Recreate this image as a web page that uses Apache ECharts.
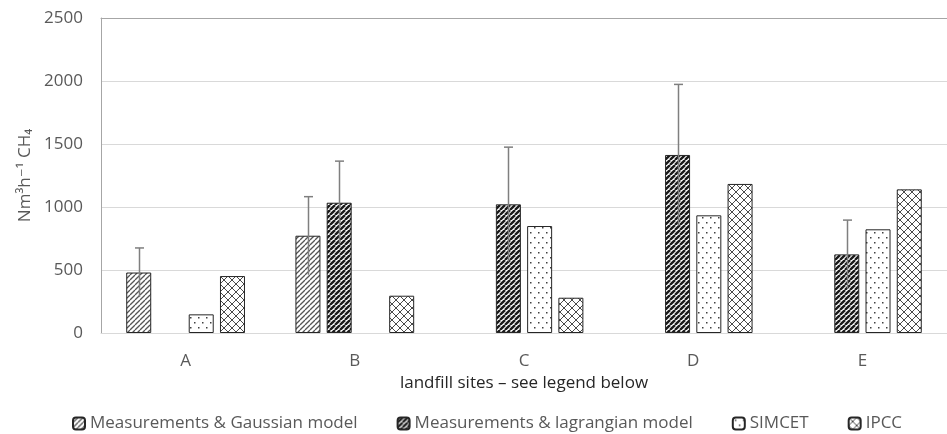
<!DOCTYPE html>
<html>
<head>
<meta charset="utf-8">
<script src="https://cdn.jsdelivr.net/npm/echarts@6/dist/echarts.min.js"></script>
<style>html,body{margin:0;padding:0;background:#fff}#c{width:947px;height:434px}</style>
</head>
<body>
<div id="c"></div>
<script>
const categories = ['A', 'B', 'C', 'D', 'E'];
const seriesNames = ['Measurements & Gaussian model', 'Measurements & lagrangian model', 'SIMCET', 'IPCC'];
const gaussian = [480, 772, null, null, null];
const gaussianErr = [195, 310, null, null, null];
const lagrangian = [null, 1034, 1021, 1413, 624];
const lagrangianErr = [null, 330, 454, 560, 272];
const simcet = [148, null, 849, 934, 823];
const ipcc = [452, 296, 280, 1183, 1140];
const yTicks = { min: 0, max: 2500, interval: 500 };

function tile(w, h, draw) {
  const c = document.createElement('canvas');
  c.width = w; c.height = h;
  const g = c.getContext('2d');
  g.fillStyle = '#fff'; g.fillRect(0, 0, w, h);
  draw(g, w, h);
  return c;
}
function diag(g, s, color, lw, dir) {
  g.strokeStyle = color; g.lineWidth = lw;
  for (let k = -1; k <= 1; k++) {
    g.beginPath();
    if (dir > 0) { g.moveTo(k * s, s); g.lineTo(k * s + s, 0); }
    else { g.moveTo(k * s, 0); g.lineTo(k * s + s, s); }
    g.stroke();
  }
}
const patGauss = tile(5, 5, (g) => diag(g, 5, '#555', 1.3, 1));
const patLag = tile(5, 5, (g) => diag(g, 5, '#1a1a1a', 2.4, 1));
const patSim = tile(8, 10, (g) => { g.fillStyle = '#404040'; g.fillRect(2, 2, 1.5, 1.5); g.fillRect(6, 7, 1.5, 1.5); });
const patIpcc = tile(8, 8, (g) => { diag(g, 8, '#4a4a4a', 1, 1); diag(g, 8, '#4a4a4a', 1, -1); });

const BAR_W = 25, GAP = 0.25;
const pitch = BAR_W * (1 + GAP);

function barSeries(name, data, pat) {
  return {
    name, type: 'bar', data, barWidth: BAR_W, barGap: (GAP * 100) + '%',
    itemStyle: { color: { image: pat, repeat: 'repeat' }, borderColor: '#262626', borderWidth: 1 }
  };
}
const errData = [];
[[gaussian, gaussianErr, 0], [lagrangian, lagrangianErr, 1]].forEach(([v, e, si]) => {
  v.forEach((val, i) => { if (val != null && e[i] != null) errData.push([i, val - e[i], val + e[i], si]); });
});

const txt = '#595959';
const font = "'Open Sans', 'DejaVu Sans', sans-serif";
const FS = 17;
const chart = echarts.init(document.getElementById('c'), null, { renderer: 'canvas' });
chart.setOption({
  animation: false,
  textStyle: { fontFamily: font },
  grid: { left: 101, top: 18, width: 856, height: 315 },
  legend: {
    data: seriesNames, left: 67, top: 410, itemWidth: 12, itemHeight: 12, itemGap: 39,
    textStyle: { color: txt, fontSize: FS, fontFamily: font }
  },
  xAxis: [{
    type: 'category', data: categories,
    axisLine: { lineStyle: { color: '#d9d9d9', width: 1 } }, axisTick: { show: false },
    axisLabel: { color: txt, fontSize: FS, margin: 20 },
    name: 'landfill sites – see legend below', nameLocation: 'middle', nameGap: 40,
    nameTextStyle: { color: '#262626', fontSize: FS }
  }, {
    type: 'category', data: categories, position: 'top',
    axisLine: { lineStyle: { color: '#a6a6a6', width: 1 } }, axisTick: { show: false }, axisLabel: { show: false }
  }],
  yAxis: {
    type: 'value', min: yTicks.min, max: yTicks.max, interval: yTicks.interval,
    axisLine: { show: true, lineStyle: { color: '#a6a6a6' } }, axisTick: { show: false },
    splitLine: { lineStyle: { color: '#d9d9d9' } },
    axisLabel: { color: txt, fontSize: FS, margin: 18, formatter: (v) => String(v) },
    name: 'Nm³h⁻¹ CH₄', nameLocation: 'middle', nameGap: 64,
    nameTextStyle: { color: txt, fontSize: FS }
  },
  series: [
    barSeries(seriesNames[0], gaussian, patGauss),
    barSeries(seriesNames[1], lagrangian, patLag),
    barSeries(seriesNames[2], simcet, patSim),
    barSeries(seriesNames[3], ipcc, patIpcc),
    {
      type: 'custom', z: 10, data: errData, silent: true,
      renderItem(params, api) {
        const ci = api.value(0), lo = api.value(1), hi = api.value(2), si = api.value(3);
        const pLo = api.coord([ci, lo]), pHi = api.coord([ci, hi]);
        const x = Math.round(pLo[0] + (si - 1.5) * pitch) + 0.5;
        const st = { stroke: '#7f7f7f', lineWidth: 1.5 };
        return { type: 'group', children: [
          { type: 'line', shape: { x1: x, y1: pLo[1], x2: x, y2: pHi[1] }, style: st },
          { type: 'line', shape: { x1: x - 4.5, y1: pHi[1], x2: x + 4.5, y2: pHi[1] }, style: st }
        ] };
      }
    }
  ]
});
</script>
</body>
</html>
